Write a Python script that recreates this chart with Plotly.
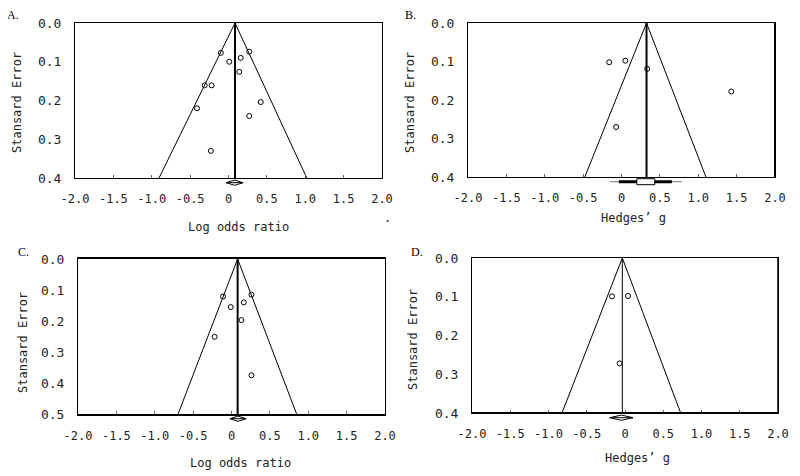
import plotly.graph_objects as go

# ---------------- data ----------------
panel_names = ["A.", "B.", "C.", "D."]
x_titles = ["Log odds ratio", "Hedges\u2019 g", "Log odds ratio", "Hedges\u2019 g"]
y_title = "Stansard Error"
x_tick_vals = [-2.0, -1.5, -1.0, -0.5, 0.0, 0.5, 1.0, 1.5, 2.0]
x_tick_labels = ["-2.0", "-1.5", "-1.0", "-0.5", "0", "0.5", "1.0", "1.5", "2.0"]
se_max = [0.4, 0.4, 0.5, 0.4]

# study points (effect, standard error)
a_eff = [-0.10, 0.27, 0.01, 0.16, 0.14, -0.31, -0.22, 0.42, -0.41, 0.27, -0.23]
a_se = [0.077, 0.074, 0.100, 0.090, 0.126, 0.161, 0.161, 0.204, 0.220, 0.240, 0.330]
b_eff = [-0.16, 0.05, 0.335, 1.43, -0.07]
b_se = [0.102, 0.098, 0.119, 0.178, 0.270]
c_eff = [-0.11, 0.26, -0.01, 0.16, 0.13, -0.22, 0.26]
c_se = [0.121, 0.115, 0.155, 0.140, 0.197, 0.251, 0.375]
d_eff = [-0.17, 0.04, -0.07]
d_se = [0.099, 0.098, 0.272]

# pooled estimate and funnel limits at the bottom of each plot
pooled = [0.085, 0.326, 0.08, -0.035]
funnel_lo = [-0.905, -0.478, -0.696, -0.824]
funnel_hi = [1.02, 1.10, 0.848, 0.728]
# summary diamond confidence interval
ci_lo = [-0.03, 0.20, -0.02, -0.20]
ci_hi = [0.19, 0.434, 0.19, 0.105]
# panel B extra intervals
b_bar = [-0.035, 0.656]
b_whisker = [-0.153, 0.786]

effs = [a_eff, b_eff, c_eff, d_eff]
ses = [a_se, b_se, c_se, d_se]

# ---------------- layout geometry ----------------
OFF = 8                      # page body margin
W, H = 800 - OFF, 476 - OFF  # figure size


def fx(px):
    return (px - OFF) / W


def fy(py):
    return 1 - (py - OFF) / H


boxes = [  # left, right, top, bottom in page px
    (75, 382, 23, 178),
    (468, 775, 23, 177),
    (78, 385, 259, 414),
    (472, 778, 258, 413),
]
center_line_w = [2, 2, 2, 1]
xline_w = [1, 1, 2, 1]

fig = go.Figure()
font_mono = "DejaVu Sans Mono, Liberation Mono, monospace"

for i in range(4):
    xa = "x" if i == 0 else f"x{i+1}"
    ya = "y" if i == 0 else f"y{i+1}"
    # funnel
    fig.add_trace(go.Scatter(
        x=[funnel_lo[i], pooled[i], funnel_hi[i]], y=[se_max[i], 0, se_max[i]],
        mode="lines", line=dict(color="black", width=1), xaxis=xa, yaxis=ya,
        showlegend=False, hoverinfo="skip"))
    # pooled vertical line
    fig.add_trace(go.Scatter(
        x=[pooled[i], pooled[i]], y=[0, se_max[i]], mode="lines",
        line=dict(color="black", width=center_line_w[i]), xaxis=xa, yaxis=ya,
        showlegend=False, hoverinfo="skip"))
    # studies
    fig.add_trace(go.Scatter(
        x=effs[i], y=ses[i], mode="markers",
        marker=dict(symbol="circle-open", size=5, color="black", line=dict(width=1)),
        xaxis=xa, yaxis=ya, showlegend=False, cliponaxis=False))

    l, r, t, b = boxes[i]
    h = b - t
    axkey_x = "xaxis" if i == 0 else f"xaxis{i+1}"
    axkey_y = "yaxis" if i == 0 else f"yaxis{i+1}"
    fig.layout[axkey_x] = dict(
        domain=[fx(l), fx(r)], anchor=ya, range=[-2, 2],
        tickvals=x_tick_vals, ticktext=x_tick_labels,
        showline=True, mirror=True, linecolor="black", linewidth=xline_w[i],
        showgrid=False, zeroline=False, ticks="inside", ticklen=3,
        tickcolor="#666", ticklabelstandoff=10, automargin=False,
        tickfont=dict(family=font_mono, size=12, color="#222"))
    fig.layout[axkey_y] = dict(
        domain=[fy(b), fy(t)], anchor=xa, range=[se_max[i], 0],
        dtick=0.1, tickformat=".1f",
        showline=True, mirror=True, linecolor="black", linewidth=1,
        showgrid=False, zeroline=False, ticks="", ticklabelstandoff=10,
        automargin=False,
        tickfont=dict(family=font_mono, size=13, color="#222"))

    # summary diamond below the axis
    yd = -4.7 / h
    hh = 2.6 / h
    xr = xa
    yr = f"{ya} domain"
    c = (ci_lo[i] + ci_hi[i]) / 2
    if i != 1:
        path = (f"M {ci_lo[i]},{yd} L {c},{yd + hh} L {ci_hi[i]},{yd} "
                f"L {c},{yd - hh} Z")
        fig.add_shape(type="path", path=path, xref=xr, yref=yr,
                      line=dict(color="black", width=1), fillcolor="white")
        fig.add_shape(type="line", x0=ci_lo[i], x1=ci_hi[i], y0=yd, y1=yd,
                      xref=xr, yref=yr, line=dict(color="black", width=1))
    else:
        fig.add_shape(type="line", x0=b_whisker[0], x1=b_whisker[1], y0=yd, y1=yd,
                      xref=xr, yref=yr, line=dict(color="#777", width=1))
        fig.add_shape(type="line", x0=b_bar[0], x1=b_bar[1], y0=yd, y1=yd,
                      xref=xr, yref=yr, line=dict(color="black", width=3))
        fig.add_shape(type="rect", x0=ci_lo[i], x1=ci_hi[i], y0=yd - 3 / h, y1=yd + 3 / h,
                      xref=xr, yref=yr, line=dict(color="black", width=1),
                      fillcolor="white")

# heavier frame edges seen in the reference
fig.add_shape(type="line", x0=1, x1=1, y0=0, y1=1, xref="x2 domain", yref="y2 domain",
              line=dict(color="black", width=2))
fig.add_shape(type="line", x0=0, x1=1, y0=0, y1=0, xref="x4 domain", yref="y4 domain",
              line=dict(color="black", width=2))
fig.add_shape(type="line", x0=1, x1=1, y0=0, y1=1, xref="x4 domain", yref="y4 domain",
              line=dict(color="black", width=1.5))

# ---------------- text ----------------
label_pos = [(13, 15), (410, 15), (23, 252), (417, 252)]
ytitle_pos = [(17, 103), (410, 103), (23, 343), (413, 340)]
xtitle_pos = [(238, 227), (633, 218), (240, 463), (637, 458)]
ann = dict(xref="paper", yref="paper", showarrow=False,
           xanchor="center", yanchor="middle")
for i in range(4):
    lx, ly = label_pos[i]
    fig.add_annotation(x=fx(lx), y=fy(ly), text=panel_names[i],
                       font=dict(family="Liberation Serif", size=12, color="black"), **ann)
    yx, yy = ytitle_pos[i]
    fig.add_annotation(x=fx(yx), y=fy(yy), text=y_title, textangle=-90,
                       font=dict(family=font_mono, size=12, color="#222"), **ann)
    tx, ty = xtitle_pos[i]
    fig.add_annotation(x=fx(tx), y=fy(ty), text=x_titles[i],
                       font=dict(family=font_mono, size=12, color="#222"), **ann)
fig.add_annotation(x=fx(387), y=fy(218), text=".",
                   font=dict(family=font_mono, size=12, color="#222"), **ann)

fig.update_layout(width=W, height=H,
                  margin=dict(l=0, r=0, t=0, b=0, pad=0, autoexpand=False),
                  paper_bgcolor="white", plot_bgcolor="white", showlegend=False)

fig.write_html("out.html")
